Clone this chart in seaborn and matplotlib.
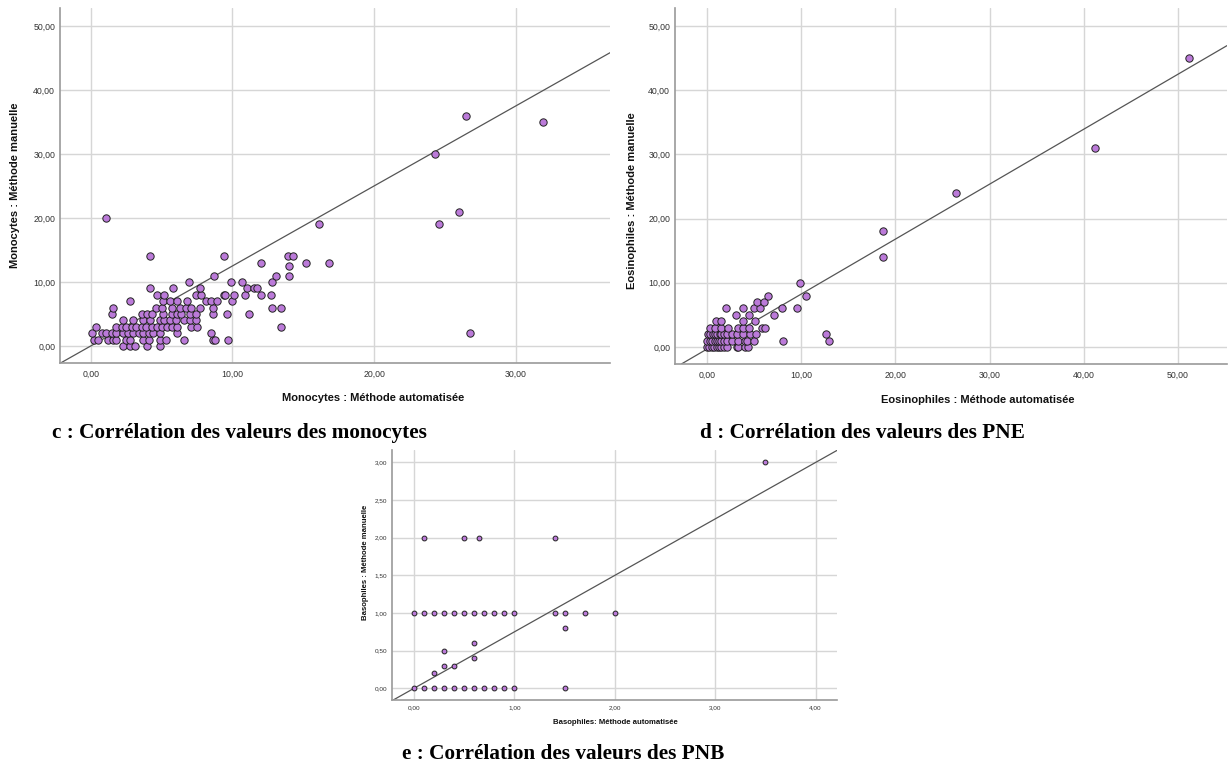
import numpy as np
import pandas as pd
import matplotlib
matplotlib.use("Agg")
import matplotlib.pyplot as plt
from matplotlib.ticker import FuncFormatter, MultipleLocator
import seaborn as sns

# ---------------- Data ----------------
# c : Monocytes
mono_auto = [2.3, 2.8, 3.1, 4.0, 4.9,
             0.2, 0.5, 1.2, 1.6, 1.8, 2.5, 2.8, 3.7, 4.1, 4.9, 5.3, 6.6, 8.6, 8.8, 9.7,
             0.1, 0.8, 1.1, 1.5, 1.8, 2.3, 2.6, 3.0, 3.4, 3.7, 4.1, 4.4, 4.9, 6.1, 8.5,
             0.4, 1.8, 2.2, 2.5, 2.9, 3.2, 3.6, 3.9, 4.3, 4.7, 5.0, 5.4, 5.7, 6.1, 7.1, 7.5, 13.4,
             2.3, 3.0, 3.7, 4.2, 4.9, 5.2, 5.6, 6.0, 6.6, 7.0, 7.4,
             1.5, 3.6, 4.0, 4.3, 5.1, 5.7, 6.1, 6.4, 7.0, 7.4, 8.6, 9.6, 11.2,
             1.6, 4.6, 5.0, 5.7, 6.3, 6.7, 7.1, 7.7, 8.6, 12.8, 13.4,
             2.8, 5.1, 5.6, 6.1, 6.8, 8.1, 8.5, 8.9, 10.0,
             4.7, 5.2, 7.4, 7.8, 9.4, 9.5, 10.1, 10.9, 12.0, 12.7,
             4.2, 5.8, 7.7, 11.0, 11.5, 11.7,
             6.9, 9.9, 10.7, 12.8,
             8.7, 13.1, 14.0,
             14.0,
             12.0, 15.2, 16.8,
             4.2, 9.4, 13.9, 14.3,
             16.1, 24.6,
             1.1, 26.0, 24.3, 31.9, 26.5, 26.8]
mono_manual = [0] * 5 + [1] * 15 + [2] * 15 + [3] * 17 + [4] * 11 + [5] * 13 + \
              [6] * 11 + [7] * 9 + [8] * 10 + [9] * 6 + [10] * 4 + [11] * 3 + \
              [12.5] + [13] * 3 + [14] * 4 + [19] * 2 + [20, 21, 30, 35, 36, 2]

# d : Eosinophiles (PNE)
eos_auto = [0.0, 0.2, 0.5, 0.7, 1.0, 1.2, 1.5, 1.8, 2.1, 3.2, 3.3, 4.0, 4.3,
            0.0, 0.3, 0.5, 0.8, 1.0, 1.2, 1.5, 1.8, 2.1, 2.6, 3.3, 4.0, 4.2, 5.0, 8.0, 12.9,
            0.1, 0.3, 0.6, 0.8, 1.0, 1.3, 1.5, 1.8, 2.1, 2.6, 3.1, 3.8, 4.5, 5.2, 12.6,
            0.3, 0.8, 1.4, 2.2, 3.3, 3.8, 4.4, 5.8, 6.1,
            0.9, 1.4, 3.8, 5.1,
            3.0, 4.4, 7.1,
            2.0, 3.8, 5.0, 5.6, 7.9, 9.5,
            5.3, 6.0,
            6.5, 10.5,
            9.8, 18.7, 18.7, 26.4, 41.2, 51.2]
eos_manual = [0] * 13 + [1] * 16 + [2] * 15 + [3] * 9 + [4] * 4 + [5] * 3 + \
             [6] * 6 + [7] * 2 + [8] * 2 + [10, 14, 18, 24, 31, 45]

# e : Basophiles (PNB)
baso_auto = [0.0, 0.1, 0.2, 0.3, 0.4, 0.5, 0.6, 0.7, 0.8, 0.9, 1.0, 1.5,
             0.2, 0.3, 0.4, 0.6, 0.3, 0.6, 1.5,
             0.0, 0.1, 0.2, 0.3, 0.4, 0.5, 0.6, 0.7, 0.8, 0.9, 1.0, 1.4, 1.5, 1.7, 2.0,
             0.1, 0.5, 0.65, 1.4,
             3.5]
baso_manual = [0.0] * 12 + [0.2, 0.3, 0.3, 0.4, 0.5, 0.6, 0.8] + [1.0] * 15 + \
              [2.0] * 4 + [3.0]

# Fit lines (intercept, slope)
mono_fit = (0.0, 1.25)
eos_fit = (-0.3, 0.855)
baso_fit = (0.0, 0.75)

# ---------------- Styling ----------------
sns.set_theme(style="white")
plt.rcParams['font.family'] = ['Liberation Sans', 'DejaVu Sans']

POINT = "#bb7ad9"
GRID = "#d6d6d6"
SPINE = "#9a9a9a"
LINE = "#555555"


def comma_fmt(v, pos):
    return f"{v:.2f}".replace('.', ',')


fig = plt.figure(figsize=(12.28, 7.69), dpi=100)
W, H = 1228.0, 769.0


def make_axes(left, top, right, bottom):
    return fig.add_axes([left / W, 1 - bottom / H, (right - left) / W, (bottom - top) / H])


def style_axes(ax, xlim, ylim, xstep, ystep, tsize, pad_x, pad_y):
    ax.set_xlim(*xlim)
    ax.set_ylim(*ylim)
    ax.xaxis.set_major_locator(MultipleLocator(xstep))
    ax.yaxis.set_major_locator(MultipleLocator(ystep))
    ax.xaxis.set_major_formatter(FuncFormatter(comma_fmt))
    ax.yaxis.set_major_formatter(FuncFormatter(comma_fmt))
    ax.grid(True, color=GRID, linewidth=1.0)
    ax.set_axisbelow(True)
    for s in ["top", "right"]:
        ax.spines[s].set_visible(False)
    for s in ["left", "bottom"]:
        ax.spines[s].set_color(SPINE)
        ax.spines[s].set_linewidth(1.2)
    ax.tick_params(axis='x', length=0, labelsize=tsize, colors="#333333", pad=pad_x)
    ax.tick_params(axis='y', length=0, labelsize=tsize, colors="#333333", pad=pad_y)


def panel(ax, x, y, fit, size, xlabel, ylabel, lsize, xlab_pos, ylab_pos):
    df = pd.DataFrame({"auto": x, "manual": y})
    sns.scatterplot(data=df, x="auto", y="manual", ax=ax, color=POINT,
                    edgecolor="#222222", linewidth=0.7, s=size, zorder=3)
    ax.axline((0, fit[0]), slope=fit[1], color=LINE, linewidth=0.9, zorder=2)
    ax.set_xlabel(xlabel, fontsize=lsize, fontweight='bold', color="#111111")
    ax.set_ylabel(ylabel, fontsize=lsize, fontweight='bold', color="#111111")
    ax.xaxis.label.set_va('center')
    ax.yaxis.label.set_va('center')
    ax.xaxis.set_label_coords(*xlab_pos)
    ax.yaxis.set_label_coords(*ylab_pos)


# Panel c
ax_c = make_axes(60, 8, 610, 363)
style_axes(ax_c, (-2.17, 36.65), (-2.66, 52.8), 10, 10, 6.3, 5, 3.5)
panel(ax_c, mono_auto, mono_manual, mono_fit, 28,
      "Monocytes : Méthode automatisée", "Monocytes : Méthode manuelle", 8,
      (0.569, -0.099), (-0.082, 0.5))

# Panel d
ax_d = make_axes(675, 8, 1227, 364)
style_axes(ax_d, (-3.44, 55.25), (-2.66, 52.8), 10, 10, 6.3, 5, 3.5)
panel(ax_d, eos_auto, eos_manual, eos_fit, 28,
      "Eosinophiles : Méthode automatisée", "Eosinophiles : Méthode manuelle", 8,
      (0.549, -0.10), (-0.078, 0.46))

# Panel e
ax_e = make_axes(391.7, 450, 836.7, 700)
style_axes(ax_e, (-0.222, 4.21), (-0.155, 3.165), 1, 0.5, 4.6, 4, 3)
panel(ax_e, baso_auto, baso_manual, baso_fit, 12,
      "Basophiles: Méthode automatisée", "Basophiles : Méthode manuelle", 5.6,
      (0.502, -0.09), (-0.058, 0.55))

# Captions
cap = dict(family=['Liberation Serif', 'DejaVu Serif'], fontweight='bold',
           fontsize=15.3, color="black", va='center')
fig.text(52 / W, 1 - 433 / H, "c : Corrélation des valeurs des monocytes", ha='left', **cap)
fig.text(700 / W, 1 - 433 / H, "d : Corrélation des valeurs des PNE", ha='left', **cap)
fig.text(563 / W, 1 - 754 / H, "e : Corrélation des valeurs des PNB", ha='center', **cap)

fig.savefig("out.png", dpi=100, facecolor="white")
